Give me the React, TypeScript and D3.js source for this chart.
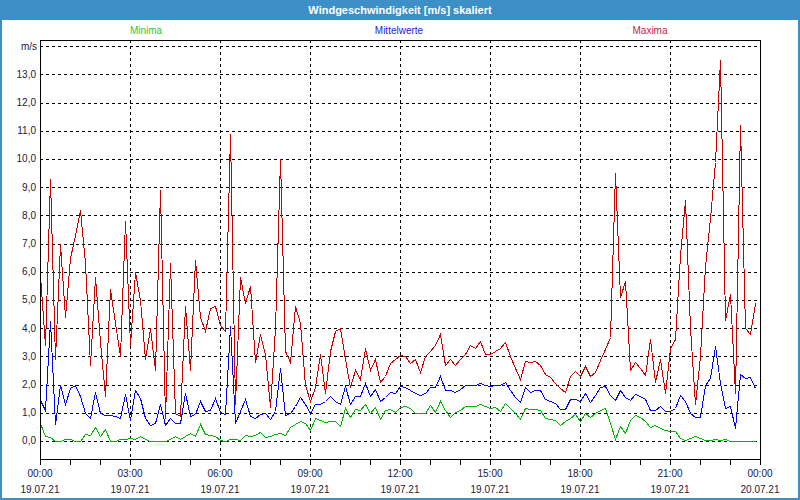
import React from 'react';
import * as d3 from 'd3';

const TITLE = 'Windgeschwindigkeit [m/s] skaliert';
const UNIT = 'm/s';
const START = new Date(2021, 6, 19, 0, 0);
const END = new Date(2021, 6, 20, 0, 0);
const STEP_MINUTES = 10;

const seriesNames = ['Minima', 'Mittelwerte', 'Maxima'];

const maxima = [
  5.9, 3.4, 9.3, 2.9, 7.0, 4.4, 6.5, 7.3, 8.2, 6.3, 2.7, 5.8, 3.5, 1.6, 5.4, 4.2, 3.0, 7.8, 3.4, 6.0,
  5.0, 2.9, 4.0, 2.5, 8.9, 0.8, 6.3, 1.0, 0.9, 4.8, 2.5, 6.4, 4.4, 3.9, 4.7, 4.8, 4.1, 3.9, 10.9, 1.3,
  5.8, 4.9, 5.5, 2.8, 3.8, 3.1, 1.2, 4.0, 10.0, 3.2, 2.8, 4.8, 4.2, 2.0, 1.4, 1.9, 3.1, 1.7,
  3.2, 3.9, 4.0, 2.9, 1.9, 2.5, 2.2, 3.3, 2.5, 2.9, 2.1, 2.3, 2.75, 2.9, 3.05, 3.0, 2.75, 2.9, 2.45, 3.0,
  3.2, 3.4, 3.8, 2.7, 2.9, 2.7, 2.9, 3.1, 3.4,
  3.3, 3.55, 3.1, 3.1, 3.2, 3.3, 3.5, 3.0, 2.6, 2.2, 2.85, 2.8, 2.85, 2.7, 2.36, 2.26, 2.07, 1.88, 1.74, 2.3,
  2.47, 2.3, 2.66, 2.3, 2.45, 2.87, 3.25, 3.7,
  9.5, 5.1, 5.66, 2.5, 2.8, 2.6, 2.35, 3.6, 2.1, 2.9, 1.7, 3.3, 3.6, 6.6, 8.55, 4.0, 1.3, 3.0, 6.2, 7.9,
  9.9, 13.5, 4.3, 5.2, 1.7, 11.2, 4.0, 3.8, 4.9,
];

const means = [
  1.44, 1.1, 4.24, 0.6, 2.0, 1.32, 1.88, 2.0, 1.6, 1.0, 0.8, 1.74, 1.0, 0.91, 0.93, 0.87, 0.82, 1.68, 0.76, 1.8,
  1.52, 0.82, 0.58, 0.64, 1.32, 0.58, 0.82, 0.64, 0.64,
  1.7, 0.87, 0.97, 1.4, 1.05, 1.1, 1.52, 1.02, 0.97, 4.07, 0.64, 1.05, 1.5, 0.87, 0.82, 0.97, 1.0, 0.79, 1.05, 2.6,
  0.91, 1.0, 1.23, 1.56, 1.31, 1.0, 1.32, 1.32, 1.4,
  1.6, 1.4, 1.3, 1.95, 1.3, 1.6, 1.6, 2.05, 1.6, 1.85, 1.4, 1.57, 1.75, 1.7, 1.95, 1.9, 1.8, 1.7, 1.63, 1.7,
  1.93, 1.9, 2.3, 1.8, 1.8, 1.75, 1.85, 2.0, 2.0,
  2.0, 2.05, 2.0, 1.95, 2.0, 2.0, 2.1, 1.8, 1.57, 1.37, 1.9, 1.73, 1.8, 1.8, 1.5, 1.4, 1.34, 1.12, 1.12, 1.48,
  1.5, 1.4, 1.7, 1.37, 1.63, 1.9, 1.95, 1.63,
  1.44, 1.8, 1.56, 1.44, 1.68, 1.58, 1.49, 1.11, 1.11, 1.25, 1.08, 1.08, 1.17, 1.64, 1.4, 1.0, 0.85, 0.84, 2.0, 2.23,
  3.38, 2.05, 1.17, 1.23, 0.46, 2.39, 2.23, 2.27, 1.88,
];

const minima = [
  0.64, 0.17, 0.14, 0.01, 0.01, 0.08, 0.08, 0.01, 0.01, 0.25, 0.22, 0.5, 0.17, 0.43, 0.01, 0.01, 0.08, 0.08, 0.1, 0.08,
  0.17, 0.08, 0.01, 0.01, 0.01, 0.01, 0.08, 0.17, 0.08,
  0.17, 0.28, 0.17, 0.61, 0.25, 0.22, 0.17, 0.05, 0.01, 0.08, 0.08, 0.05, 0.22, 0.17, 0.22, 0.3, 0.14, 0.17, 0.26, 0.28,
  0.22, 0.5, 0.61, 0.7, 0.64, 0.4, 0.82, 0.73, 0.66,
  0.72, 0.69, 0.53, 1.16, 0.86, 1.13, 1.1, 1.3, 1.0, 1.22, 0.77, 1.1, 1.13, 1.04, 1.2, 1.24, 1.16, 1.0, 0.98, 1.0,
  1.28, 1.04, 1.4, 1.1, 0.86, 1.04, 1.1, 1.24, 1.24,
  1.24, 1.3, 1.25, 1.18, 1.22, 1.08, 1.34, 1.16, 0.98, 0.78, 1.18, 1.13, 1.13, 1.1, 0.8, 0.77, 0.74, 0.57, 0.69, 0.8,
  0.96, 0.72, 0.98, 0.86, 1.0, 1.1, 1.18, 0.63,
  0.07, 0.54, 0.28, 0.76, 0.91, 0.84, 0.7, 0.5, 0.56, 0.46, 0.38, 0.35, 0.34, 0.1, 0.05, 0.1, 0.19, 0.1, 0.02, 0.02,
  0.07, 0.02, 0.07, 0.01, 0.01, 0.01, 0.01, 0.01, 0.01,
];

const yTickValues = [0, 1, 2, 3, 4, 5, 6, 7, 8, 9, 10, 11, 12, 13];
const yTickLabels = ['0,0', '1,0', '2,0', '3,0', '4,0', '5,0', '6,0', '7,0', '8,0', '9,0', '10,0', '11,0', '12,0', '13,0'];
const unitTickValue = 14;
const xTimeLabels = ['00:00', '03:00', '06:00', '09:00', '12:00', '15:00', '18:00', '21:00', '00:00'];
const xDateLabels = ['19.07.21', '19.07.21', '19.07.21', '19.07.21', '19.07.21', '19.07.21', '19.07.21', '19.07.21', '20.07.21'];

const W = 800;
const H = 500;
const M = { left: 40, right: 760, top: 40, bottom: 459 };
const FONT = "'Liberation Sans', Arial, sans-serif";
const FRAME = '#3d8fc8';
const COLORS = { min: '#00b400', mean: '#0000ff', max: '#c80000' };
const LEGEND_COLORS = ['#20cc40', '#1a1ae0', '#c02848'];

export default function App() {
  const x = d3.scaleTime().domain([START, END]).range([M.left, M.right]);
  const y = d3.scaleLinear().domain([-0.64, 14.22]).range([M.bottom, M.top]);
  const t = (i: number) => d3.timeMinute.offset(START, i * STEP_MINUTES);

  const line = d3
    .line<number>()
    .x((_, i) => Math.round(x(t(i))) + 0.5)
    .y((d) => Math.round(y(d)) + 0.5);

  const majorTicks = x.ticks(d3.timeHour.every(3)!);
  const minorTicks = x.ticks(d3.timeHour.every(1)!);
  const px = (v: number) => Math.round(v) + 0.5;

  const legendX = [146, 399, 650];

  return (
    <svg
      width={W}
      height={H}
      style={{ position: 'absolute', left: 0, top: 0, display: 'block', background: '#fff' }}
      fontFamily={FONT}
    >
      <rect x={0} y={0} width={W} height={H} fill="#ffffff" />
      {/* window frame */}
      <rect x={0} y={0} width={W} height={20} fill={FRAME} />
      <rect x={1} y={1} width={W - 2} height={H - 2} fill="none" stroke={FRAME} strokeWidth={2} />
      <text x={W / 2} y={14} textAnchor="middle" fill="#ffffff" fontSize={11} fontWeight="bold">
        {TITLE}
      </text>

      {/* legend */}
      {seriesNames.map((n, i) => (
        <text key={n} x={legendX[i]} y={34} textAnchor="middle" fontSize={10} fill={LEGEND_COLORS[i]}>
          {n}
        </text>
      ))}

      {/* horizontal grid */}
      {[...yTickValues, unitTickValue].map((v) => (
        <line
          key={'h' + v}
          x1={M.left}
          x2={M.right}
          y1={px(y(v))}
          y2={px(y(v))}
          stroke="#000"
          strokeDasharray="3,3"
          shapeRendering="crispEdges"
        />
      ))}
      {/* vertical grid */}
      {majorTicks.slice(1, -1).map((d, i) => (
        <line
          key={'v' + i}
          x1={px(x(d))}
          x2={px(x(d))}
          y1={M.top}
          y2={M.bottom}
          stroke="#000"
          strokeDasharray="3,3"
          shapeRendering="crispEdges"
        />
      ))}

      {/* y labels */}
      {yTickValues.map((v, i) => (
        <text key={'yl' + v} x={36} y={y(v) + 3.5} textAnchor="end" fontSize={10} fill="#1a1a3a">
          {yTickLabels[i]}
        </text>
      ))}
      <text x={37} y={y(unitTickValue) + 3.5} textAnchor="end" fontSize={10} fill="#1a1a3a">
        {UNIT}
      </text>

      {/* data lines */}
      <g fill="none" strokeWidth={1} shapeRendering="crispEdges">
        <path d={line(minima) || ''} stroke={COLORS.min} />
        <path d={line(means) || ''} stroke={COLORS.mean} />
        <path d={line(maxima) || ''} stroke={COLORS.max} />
      </g>

      {/* plot frame */}
      <rect
        x={M.left + 0.5}
        y={M.top + 0.5}
        width={M.right - M.left}
        height={M.bottom - M.top}
        fill="none"
        stroke="#000"
        strokeWidth={1}
        shapeRendering="crispEdges"
      />

      {/* x ticks */}
      {minorTicks.map((d, i) => (
        <line
          key={'xt' + i}
          x1={px(x(d))}
          x2={px(x(d))}
          y1={M.bottom}
          y2={M.bottom + 6}
          stroke="#000"
          shapeRendering="crispEdges"
        />
      ))}
      {majorTicks.map((d, i) => (
        <g key={'xl' + i}>
          <text x={x(d)} y={477} textAnchor="middle" fontSize={10} fill="#1a1a3a">
            {xTimeLabels[i]}
          </text>
          <text x={x(d)} y={493} textAnchor="middle" fontSize={10} fill="#1a1a3a">
            {xDateLabels[i]}
          </text>
        </g>
      ))}
    </svg>
  );
}
